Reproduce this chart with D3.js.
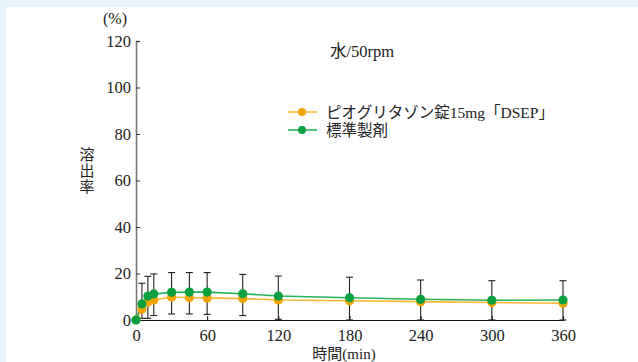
<!DOCTYPE html>
<html><head><meta charset="utf-8">
<script src="https://cdn.jsdelivr.net/npm/d3@7"></script>
<style>
html,body{margin:0;padding:0;background:#fff;}
svg{display:block;}
text{font-family:"Liberation Serif","DejaVu Serif","Noto Sans CJK JP",serif;fill:#222;}
</style></head>
<body>
<script>
const times = [0, 5, 10, 15, 30, 45, 60, 90, 120, 180, 240, 300, 360];
const testValues = [0, 4.7, 7.6, 8.6, 9.9, 9.6, 9.5, 9.2, 8.6, 8.3, 7.9, 7.5, 7.2];
const refValues  = [0, 6.9, 10.3, 11.2, 11.9, 12.0, 12.0, 11.3, 10.3, 9.6, 8.9, 8.5, 8.6];
const errHigh = [null, 15.8, 18.8, 19.8, 20.4, 20.4, 20.4, 19.6, 18.9, 18.4, 17.2, 16.9, 16.9];
const errLow  = [null, 0.7, 0.7, 1.9, 2.6, 2.6, 2.4, 1.9, 0.3, 0, 0, 0, 0];
const xTicks = [0, 60, 120, 180, 240, 300, 360];
const yTicks = [0, 20, 40, 60, 80, 100, 120];
const seriesNames = ["ピオグリタゾン錠15mg「DSEP」", "標準製剤"];
const condition = "水/50rpm";

const W = 638, H = 362;
const svg = d3.select("body").append("svg").attr("width", W).attr("height", H);

// light blue frame strips
svg.append("rect").attr("x",0).attr("y",0).attr("width",W).attr("height",7).attr("fill","#e8f4fc");
svg.append("rect").attr("x",0).attr("y",0).attr("width",6).attr("height",H).attr("fill","#e8f4fc");

const x = d3.scaleLinear().domain([0,360]).range([136,563]);
const y = d3.scaleLinear().domain([0,120]).range([320,41]);

// y axis
const yAxis = svg.append("g").attr("transform","translate(136,0)")
  .call(d3.axisLeft(y).tickValues(yTicks).tickSize(-4).tickPadding(5));
yAxis.select(".domain").attr("stroke","#777").attr("stroke-width",1.6);
yAxis.selectAll(".tick line").attr("stroke","#333");
yAxis.selectAll(".tick text").attr("font-size",16.5).attr("font-family","Liberation Serif").attr("fill","#222");

// x axis
const xAxis = svg.append("g").attr("transform","translate(0,320)")
  .call(d3.axisBottom(x).tickValues(xTicks).tickSize(-4).tickPadding(9));
xAxis.select(".domain").attr("stroke","#111").attr("stroke-width",1.2);
xAxis.selectAll(".tick line").attr("stroke","#111");
xAxis.selectAll(".tick text").attr("font-size",16.5).attr("font-family","Liberation Serif").attr("fill","#222");

// axis titles
svg.append("text").attr("x",115).attr("y",24).attr("text-anchor","middle").attr("font-size",16).text("(%)");
const yl = svg.append("text").attr("x",87).attr("font-size",15).attr("text-anchor","middle");
["溶","出","率"].forEach((c,i)=>yl.append("tspan").attr("x",87).attr("y",160+i*16).text(c));
svg.append("text").attr("x",344).attr("y",359).attr("text-anchor","middle").attr("font-size",15).text("時間(min)");
svg.append("text").attr("x",330).attr("y",57).attr("font-size",16.5).text(condition);

// error bars
const eb = svg.append("g").attr("stroke","#222").attr("stroke-width",1.1);
times.forEach((t,i)=>{
  if(errHigh[i]==null) return;
  const cx = x(t), y1 = y(errHigh[i]), y2 = y(errLow[i]);
  eb.append("line").attr("x1",cx).attr("x2",cx).attr("y1",y1).attr("y2",y2);
  eb.append("line").attr("x1",cx-3.5).attr("x2",cx+3.5).attr("y1",y1).attr("y2",y1);
  eb.append("line").attr("x1",cx-3.5).attr("x2",cx+3.5).attr("y1",y2).attr("y2",y2);
});

const series = [
  {vals: testValues, line:"#f7b733", dot:"#f2a500"},
  {vals: refValues, line:"#27b25a", dot:"#0aa040"}
];
const lineGen = d3.line().x((d,i)=>x(times[i])).y(d=>y(d));
series.forEach(s=>{
  svg.append("path").datum(s.vals).attr("d",lineGen).attr("fill","none").attr("stroke",s.line).attr("stroke-width",1.6);
});
series.forEach(s=>{
  svg.append("g").selectAll("circle").data(s.vals).join("circle")
    .attr("cx",(d,i)=>x(times[i])).attr("cy",d=>y(d)).attr("r",4.6).attr("fill",s.dot);
});

// legend
series.forEach((s,i)=>{
  const ly = 112 + i*18;
  svg.append("line").attr("x1",288).attr("x2",317).attr("y1",ly).attr("y2",ly).attr("stroke",s.line).attr("stroke-width",1.6);
  svg.append("circle").attr("cx",302).attr("cy",ly).attr("r",4).attr("fill",s.dot);
  svg.append("text").attr("x",326).attr("y",ly+5.5).attr("font-size",15.5).text(seriesNames[i]);
});
</script>
</body></html>
